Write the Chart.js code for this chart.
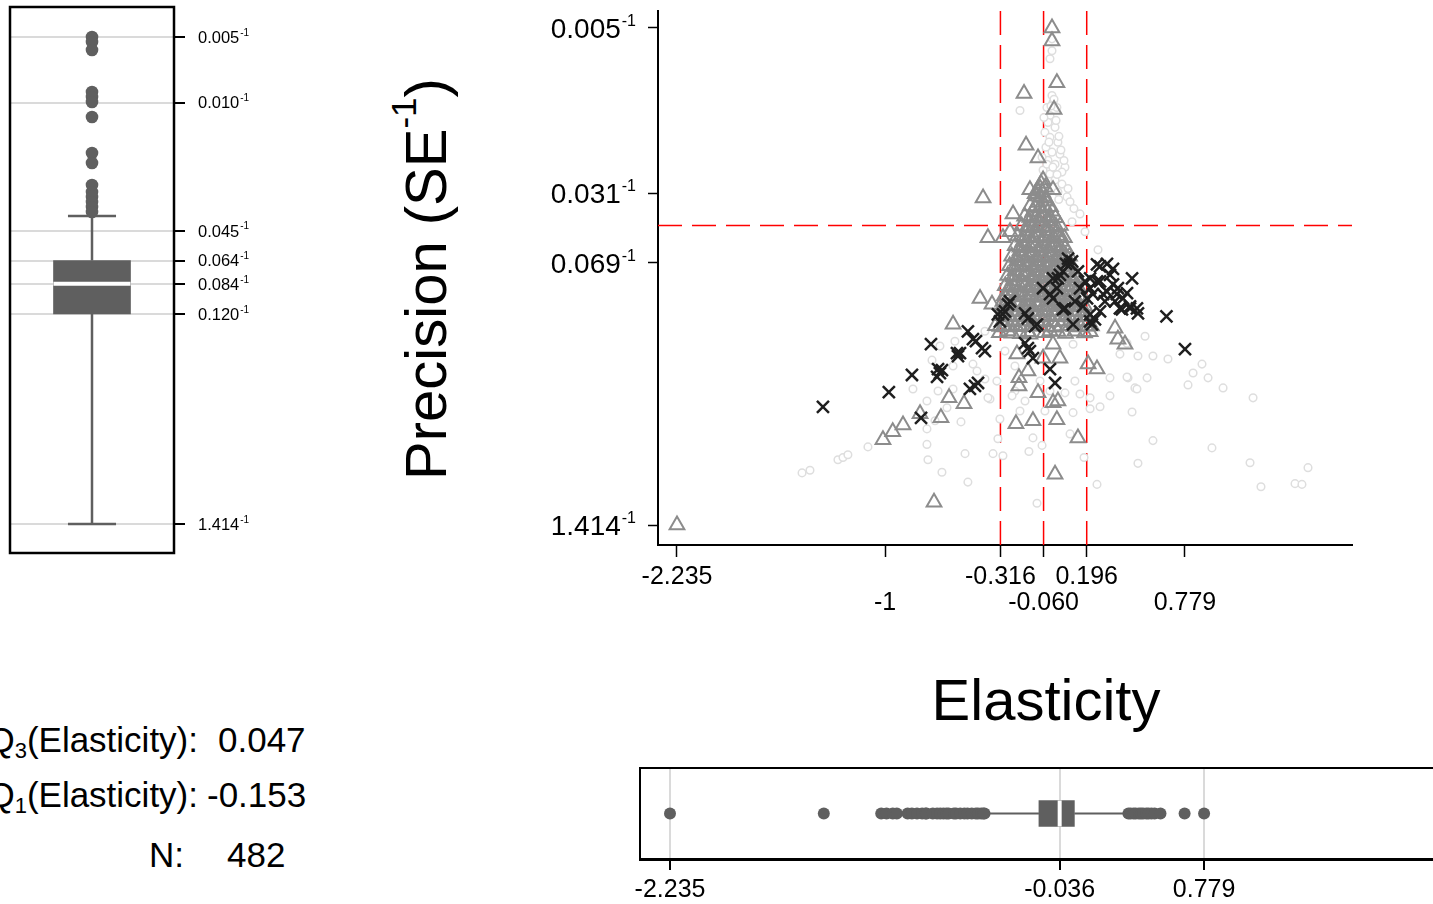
<!DOCTYPE html>
<html><head><meta charset="utf-8">
<script src="https://cdn.jsdelivr.net/npm/chart.js@4.4.1/dist/chart.umd.min.js"></script>
<style>
html,body{margin:0;padding:0;background:#fff;overflow:hidden;width:1433px;height:904px;}
body{position:relative;font-family:'Liberation Sans',Arial,Helvetica,sans-serif;color:#000;}
canvas{position:absolute;}
.t{position:absolute;white-space:nowrap;color:#000;}
.s{font-size:35px;line-height:35px;}
</style></head><body>
<canvas id="cL" width="270" height="560" style="left:0;top:0"></canvas>
<canvas id="cM" width="963" height="640" style="left:470px;top:0"></canvas>
<canvas id="cB" width="860" height="164" style="left:600px;top:740px"></canvas>

<div class="t" style="left:430px;top:279px;font-size:58px;line-height:58px;transform:translate(-50%,-50%) rotate(-90deg);">Precision (SE<span style="font-size:35px;position:relative;top:-30px;">-1</span>)</div>
<div class="t" style="left:1046px;top:671px;font-size:58px;line-height:58px;transform:translateX(-50%);">Elasticity</div>

<div class="t s" style="left:198px;top:722px;transform:translateX(-100%);">Q<span style="font-size:22px;position:relative;top:6px;">3</span>(Elasticity):</div>
<div class="t s" style="left:218px;top:722px;">0.047</div>
<div class="t s" style="left:198px;top:777px;transform:translateX(-100%);">Q<span style="font-size:22px;position:relative;top:6px;">1</span>(Elasticity):</div>
<div class="t s" style="left:207px;top:777px;">-0.153</div>
<div class="t s" style="left:184px;top:837px;transform:translateX(-100%);">N:</div>
<div class="t s" style="left:227px;top:837px;">482</div>

<script>
// ---------------- DATA ----------------
// Main scatter: [elasticity, precision (1/SE)]
const crossPts = [
[-1.369,2.76],[-0.978,3.27],[-0.841,3.98],[-0.728,5.67],[-0.787,2.43],[-0.692,3.89],[-0.663,4.21],[-0.574,5.12],[-0.556,5.12],
[-0.509,6.58],[-0.479,6.01],[-0.425,5.42],[-0.408,5.24],[-0.497,3.39],[-0.449,3.63],[-0.467,3.51],[-0.331,8.00],[-0.319,7.38],
[-0.271,8.97],[-0.259,9.28],[-0.289,8.28],[-0.170,8.09],[-0.153,7.64],[-0.099,7.13],[-0.170,5.74],[-0.153,5.42],[-0.123,4.83],
[-0.022,4.26],[0.008,3.63],[0.115,7.13],[0.216,7.38],[0.227,7.13],[0.245,7.55],[0.669,7.82],[0.779,5.36],[0.275,8.28],[0.393,8.57],
[0.453,8.57],[0.500,8.09],[0.085,15.2],[0.097,14.2],[0.037,12.6],[0.144,13.1],[-0.004,12.1],[0.019,10.8],[-0.063,10.8],[-0.004,9.61],
[0.067,8.57],[0.156,10.8],[0.186,11.7],[0.216,12.1],[0.257,14.2],[0.316,14.3],[0.352,13.5],[0.334,12.6],[0.465,12.1],[0.233,10.1],
[0.316,10.4],[0.375,10.1],[0.435,10.2],[0.453,8.77],[0.405,8.47],[0.198,9.61],[0.275,11.7],[0.352,11.3],[0.126,9.28],[0.055,8.47],
[-0.022,10.1],[0.216,10.8],[0.257,11.7],[0.293,10.1],[0.411,9.61],[0.494,8.57],[0.055,13.1],[0.025,12.1],[0.275,13.9],[0.216,8.00],
[-0.686,4.26],[-0.568,4.95],[-0.675,4.07],[-0.461,5.87],[-0.141,5.24],[-0.111,6.97],[0.109,14.7],[0.073,14.3],[-0.301,8.00],
[0.364,9.28],[0.304,9.28],[0.174,8.77],[0.381,10.8]
];
const trianglePts = [
[-0.010,216],[-0.010,186],[0.019,115],[-0.176,101.5],[0.002,84.5],[-0.164,56.0],[-0.093,48.3],[-0.063,37.5],[-0.141,33.5],[-0.004,33.5],
[-0.419,30.5],[-0.241,25.4],[-0.259,20.7],[-0.390,19.3],[-0.301,19.3],[-0.437,9.61],[-0.366,8.97],[-0.597,7.13],[-0.301,9.28],
[-0.247,6.44],[-0.218,5.06],[-0.153,4.17],[-0.206,3.85],[-0.206,3.51],[-0.093,3.24],[-0.004,2.89],[0.025,2.95],[0.019,2.38],
[-0.123,2.35],[-0.224,2.27],[0.144,1.93],[0.008,1.27],[-0.710,0.92],[-0.621,3.06],[-0.532,2.86],[-0.669,2.43],[-0.793,2.55],
[-0.894,2.24],[-0.955,2.07],[-1.013,1.89],[-0.063,4.83],[0.037,4.83],[0.204,4.51],[0.257,4.26],[0.364,6.81],[0.381,6.01],
[0.423,5.67],[-2.235,0.7072],[-0.004,5.67],[-0.141,6.36],
[-0.075,36.0],[-0.050,34.5],[-0.110,32.0],[-0.080,34.0],[-0.065,32.5],[-0.095,33.0],
[-0.105,31.2],[-0.049,30.4],[-0.078,30.7],
[-0.093,29.0],[-0.046,29.4],
[-0.139,27.8],[-0.083,27.2],[-0.019,27.6],[-0.111,27.4],[-0.052,27.6],
[-0.123,26.1],[-0.063,25.8],[-0.010,26.2],
[-0.172,24.7],[-0.108,24.2],[-0.055,24.8],[0.011,24.3],[-0.141,24.4],[-0.081,24.6],[-0.022,24.4],
[-0.141,23.3],[-0.081,23.0],[-0.022,23.4],
[-0.190,22.1],[-0.127,21.6],[-0.066,22.0],[-0.012,21.7],[0.039,22.2],[-0.158,21.8],[-0.099,22.0],[-0.040,21.8],[0.014,22.0],
[-0.158,20.8],[-0.099,20.5],[-0.040,20.9],[0.019,20.6],
[-0.214,19.7],[-0.150,19.3],[-0.096,19.6],[-0.031,19.2],[0.027,19.8],[0.063,19.3],
[-0.182,19.4],[-0.123,19.6],[-0.063,19.4],[-0.004,19.6],[0.043,19.4],
[-0.182,18.5],[-0.123,18.2],[-0.063,18.6],[-0.004,18.3],[0.043,18.5],
[-0.228,17.6],[-0.173,17.2],[-0.109,17.5],[-0.050,17.1],[0.006,17.6],[0.069,17.2],
[-0.200,17.3],[-0.141,17.5],[-0.081,17.3],[-0.022,17.5],[0.037,17.3],
[-0.200,16.6],[-0.141,16.3],[-0.081,16.6],[-0.022,16.4],[0.037,16.6],
[-0.249,15.6],[-0.186,15.3],[-0.131,15.7],[-0.066,15.4],[-0.013,15.6],[0.051,15.3],[0.094,15.6],
[-0.218,15.4],[-0.158,15.6],[-0.099,15.4],[-0.040,15.6],[0.019,15.4],[0.073,15.6],
[-0.218,14.8],[-0.158,14.6],[-0.099,14.8],[-0.040,14.6],[0.019,14.8],[0.073,14.6],
[-0.261,14.0],[-0.197,13.8],[-0.143,14.1],[-0.078,13.7],[-0.025,14.0],[0.040,13.8],[0.107,14.0],
[-0.230,13.8],[-0.170,14.0],[-0.111,13.8],[-0.052,14.0],[0.008,13.8],[0.073,14.0],
[-0.230,13.2],[-0.170,13.0],[-0.111,13.2],[-0.052,13.0],[0.008,13.2],[0.067,13.0],
[-0.273,12.5],[-0.209,12.3],[-0.156,12.6],[-0.091,12.2],[-0.036,12.5],[0.022,12.3],[0.088,12.5],[0.130,12.2],
[-0.241,12.3],[-0.182,12.5],[-0.123,12.3],[-0.063,12.5],[-0.004,12.3],[0.055,12.5],[0.109,12.3],
[-0.241,11.8],[-0.182,11.6],[-0.123,11.8],[-0.063,11.6],[-0.004,11.8],[0.055,11.6],[0.109,11.8],
[-0.287,11.1],[-0.233,10.9],[-0.168,11.2],[-0.114,10.8],[-0.049,11.1],[0.010,10.9],[0.064,11.1],[0.147,10.9],
[-0.259,10.95],[-0.200,11.05],[-0.141,10.95],[-0.081,11.05],[-0.022,10.95],[0.037,11.05],[0.103,10.95],
[-0.259,10.5],[-0.200,10.3],[-0.141,10.5],[-0.081,10.3],[-0.022,10.5],[0.037,10.3],[0.097,10.5],
[-0.292,9.90],[-0.227,9.75],[-0.173,9.95],[-0.108,9.70],[-0.055,9.88],[0.011,9.72],[0.070,9.90],[0.123,9.76],[0.170,9.85],
[-0.259,9.80],[-0.200,9.88],[-0.141,9.78],[-0.081,9.86],[-0.022,9.80],[0.037,9.88],[0.097,9.78],[0.150,9.86],
[-0.271,9.35],[-0.212,9.20],[-0.153,9.32],[-0.093,9.22],[-0.034,9.34],[0.025,9.20],[0.085,9.30],[0.144,9.22],
[-0.299,8.82],[-0.244,8.70],[-0.179,8.85],[-0.126,8.68],[-0.060,8.80],[-0.007,8.72],[0.058,8.86],[0.112,8.70],[0.183,8.80],
[-0.271,8.74],[-0.212,8.80],[-0.153,8.72],[-0.093,8.80],[-0.034,8.74],[0.025,8.80],[0.085,8.72],[0.150,8.78],
[-0.289,8.33],[-0.230,8.22],[-0.170,8.31],[-0.111,8.24],[-0.052,8.33],[0.008,8.21],[0.067,8.30],[0.126,8.25],[0.174,8.32],
[-0.316,7.88],[-0.262,7.76],[-0.197,7.90],[-0.144,7.74],[-0.078,7.86],[-0.025,7.78],[0.040,7.92],[0.094,7.75],[0.159,7.85],[0.201,7.78],
[-0.289,7.80],[-0.230,7.85],[-0.170,7.79],[-0.111,7.84],[-0.052,7.80],[0.008,7.85],[0.067,7.79],[0.126,7.84],[0.180,7.80],
[-0.301,7.42],[-0.241,7.33],[-0.182,7.40],[-0.123,7.34],[-0.063,7.41],[-0.004,7.35],[0.055,7.40],[0.115,7.33],[0.186,7.39],
[-0.345,7.02],[-0.292,6.92],[-0.227,7.01],[-0.173,6.93],[-0.084,7.00],[0.011,6.90],[0.082,7.02],[0.159,6.92],[0.224,7.00],
[-0.319,6.95],[-0.259,6.99],[-0.200,6.94],[-0.129,6.98],[-0.040,6.95],[0.043,6.99],[0.121,6.94],[0.192,6.98],
[-0.271,6.60],[-0.153,6.55],[-0.022,6.60],[0.025,6.56],[0.126,6.59],[0.216,6.55],
[-0.322,6.48],[-0.197,6.40],[-0.055,6.47],[0.070,6.41],[0.183,6.46]
];
const circlePts = [
[-0.010,190.5],[-0.010,166.1],[-0.022,151.5],[-0.200,83.5],[-0.010,99.2],[-0.004,91.6],[-0.022,78.9],[-0.034,72.8],[0.008,68.8],
[-0.052,64.9],[-0.022,61.3],[0.025,57.9],[-0.046,54.7],[-0.010,51.7],[0.037,50.5],[-0.034,47.1],[0.008,45.0],[0.067,43.5],
[-0.063,42.1],[-0.022,40.2],[0.049,35.8],[0.025,32.7],[0.079,30.9],[0.097,29.2],[0.156,25.4],[0.109,23.2],[0.263,16.8],[0.186,20.7],
[-0.040,86.5],[-0.058,77.1],[0.014,74.5],[0.049,41.1],[0.008,37.5],[-0.052,34.7],[0.019,86.5],[-0.069,48.8],
[0.002,95.0],[-0.016,88.0],[0.031,62.0],[-0.028,58.0],[0.043,53.0],[-0.040,45.0],[0.061,47.0],[0.020,40.0],[-0.005,43.5],[0.085,34.0],
[0.030,30.0],[0.120,27.0],
[0.542,6.22],[0.589,4.95],[0.678,4.78],[0.500,4.95],[0.393,5.06],[0.880,4.51],[0.827,4.07],[0.916,3.85],[0.797,3.55],[1.005,3.43],
[1.183,3.06],[0.554,3.85],[0.441,3.85],[0.334,3.85],[0.482,3.43],[0.465,2.60],[0.275,2.76],[0.589,1.87],[0.939,1.72],[1.165,1.45],
[1.509,1.37],[0.500,1.44],[0.180,1.54],[0.257,1.13],[-0.099,0.91],[1.432,1.14],[1.473,1.13],[1.230,1.10],[-0.147,1.65],[-0.360,1.61],
[-0.301,1.57],[-0.319,2.40],[-0.378,3.02],[0.115,2.58],[0.097,2.02],[-0.123,1.93],[-0.069,1.77],[0.216,3.06],[0.156,3.20],[0.067,3.24],
[0.126,3.71],[0.115,5.67],[0.435,5.74],[0.494,3.39],[0.435,3.89],[-0.230,3.31],[-0.170,2.95],[-0.052,2.63],[0.216,2.70],[0.334,3.13],
[-1.493,1.29],[-1.446,1.33],[-1.280,1.50],[-1.250,1.54],[-1.221,1.59],[-1.102,1.74],[-0.752,1.79],[-0.746,1.50],[-0.663,1.30],
[-0.509,1.16],[-0.526,1.61],[-0.550,2.32],[-0.752,2.14],[-0.722,4.72],[-0.597,4.41],[-0.455,4.17],[-0.390,3.06],[-0.331,1.91],
[-0.597,3.39],[-0.835,3.39],[-0.752,2.95],[-0.633,2.73],[-0.704,2.35],[-0.479,4.51],[-0.408,3.80],[-0.337,3.71],[-0.675,5.55],
[-0.586,5.87],[-0.408,6.58],[-0.230,4.41],[-0.289,5.24],[-0.081,3.71],[-0.022,3.31],[-0.200,2.63],[-0.247,3.13],[-0.686,3.31]
];
// Main axes
const xTickValues = [-2.235, -1, -0.316, -0.060, 0.196, 0.779];
const xTickLabels = ['-2.235', '-1', '-0.316', '-0.060', '0.196', '0.779'];
const xTickRow    = [0, 1, 0, 1, 0, 1];
const seTickValues = [0.00463, 0.031, 0.069, 1.414];
const seTickLabels = ['0.005', '0.031', '0.069', '1.414'];
const refLinesX = [-0.316, -0.060, 0.196];
const refLineSE = [0.045];
// Left box plot of SE (whisker top, Q1, median, Q3, whisker bottom)
const seBoxStats = [0.0379, 0.064, 0.084, 0.120, 1.414];
const seBoxOutliers = [0.00463, 0.00491, 0.00539, 0.00883, 0.00937, 0.00994, 0.01185, 0.01809, 0.02035,
  0.02634, 0.0286, 0.0303, 0.0322, 0.0341, 0.0362];
const seBoxTickValues = [0.00463, 0.010, 0.045, 0.064, 0.084, 0.120, 1.414];
const seBoxTickLabels = ['0.005', '0.010', '0.045', '0.064', '0.084', '0.120', '1.414'];
// Bottom box plot of elasticity (whisker lo, Q1, median, Q3, whisker hi)
const elastBoxStats = [-0.445, -0.153, -0.036, 0.047, 0.333];
const elastOutliers = [-2.235, -1.367, -1.043, -1.013, -0.978, -0.955, -0.894, -0.870, -0.841, -0.812, -0.793, -0.787,
  -0.752, -0.728, -0.710, -0.692, -0.675, -0.663, -0.633, -0.621, -0.597, -0.574, -0.556, -0.532, -0.509, -0.497,
  -0.479, -0.467, -0.460, 0.352, 0.364, 0.381, 0.393, 0.411, 0.423, 0.435, 0.453, 0.465, 0.482, 0.500, 0.533, 0.669, 0.779];
const elastTickValues = [-2.235, -0.036, 0.779];
const elastTickLabels = ['-2.235', '-0.036', '0.779'];

// ---------------- SETUP ----------------
const FONT = "'Liberation Sans', Arial, Helvetica, sans-serif";
Chart.defaults.font.family = FONT;
Chart.defaults.color = '#000';
Chart.defaults.animation = false;
Chart.defaults.events = [];
Chart.defaults.plugins.legend.display = false;
Chart.defaults.plugins.tooltip.enabled = false;

const BOXGREY = '#5f5f5f';
const toPts = arr => arr.map(([x, p]) => ({x: x, y: p}));

const framePlugin = {
  id: 'frame',
  afterDatasetsDraw(chart, args, o) {
    if (!o || !o.show) return;
    const a = chart.chartArea, ctx = chart.ctx;
    ctx.save();
    ctx.strokeStyle = '#000'; ctx.lineWidth = o.width || 2;
    ctx.strokeRect(a.left, a.top, a.right - a.left, a.bottom - a.top);
    ctx.restore();
  }
};
const supTicks = {
  id: 'supTicks',
  afterDraw(chart, args, o) {
    if (!o || !o.values) return;
    const sc = chart.scales.y, ctx = chart.ctx, a = chart.chartArea;
    ctx.save();
    ctx.fillStyle = '#000';
    ctx.textBaseline = 'alphabetic';
    ctx.textAlign = 'left';
    o.values.forEach((se, i) => {
      const y = sc.getPixelForValue(1 / se);
      const base = o.labels[i];
      ctx.font = o.size + 'px ' + FONT;
      const bw = ctx.measureText(base).width;
      ctx.font = o.supSize + 'px ' + FONT;
      const sw = ctx.measureText('-1').width;
      const x0 = o.align === 'left' ? a.right + o.offset : a.left - o.offset - bw - sw - 1;
      ctx.font = o.size + 'px ' + FONT;
      ctx.fillText(base, x0, y + o.size * 0.36);
      ctx.font = o.supSize + 'px ' + FONT;
      ctx.fillText('-1', x0 + bw + 1, y - o.size * 0.07);
    });
    ctx.restore();
  }
};

// ---------------- MAIN SCATTER ----------------
const yMinMain = 0.5626, yMaxMain = 262.4;
const xMinMain = -2.3477, xMaxMain = 1.770;
const refDatasets = refLinesX.map(v => ({
  type: 'line', data: [{x: v, y: yMinMain}, {x: v, y: yMaxMain}],
  borderColor: '#ff0000', borderWidth: 1.5, borderDash: [24, 10], pointRadius: 0, showLine: true, order: 3
}));
refLineSE.forEach(se => refDatasets.push({
  type: 'line', data: [{x: xMinMain, y: 1 / se}, {x: xMaxMain, y: 1 / se}],
  borderColor: '#ff0000', borderWidth: 1.5, borderDash: [24, 10], pointRadius: 0, showLine: true, order: 3
}));

new Chart(document.getElementById('cM'), {
  type: 'scatter',
  data: { datasets: [
    { label: 'x', data: toPts(crossPts), pointStyle: 'crossRot', pointRadius: 8.5, borderColor: '#1f1f1f',
      backgroundColor: '#1f1f1f', borderWidth: 2.5, order: 0 },
    { label: 'tri', data: toPts(trianglePts), pointStyle: 'triangle', pointRadius: 8.5, borderColor: '#8c8c8c',
      backgroundColor: 'rgba(0,0,0,0)', borderWidth: 2, order: 1 },
    { label: 'circ', data: toPts(circlePts), pointStyle: 'circle', pointRadius: 3.8, borderColor: '#dedede',
      backgroundColor: '#ffffff', borderWidth: 1.5, order: 2 },
    ...refDatasets
  ]},
  options: {
    responsive: false, devicePixelRatio: 1,
    layout: { padding: { left: 0, right: 81, top: 8, bottom: 0 } },
    scales: {
      x: {
        type: 'linear', min: xMinMain, max: xMaxMain,
        afterBuildTicks: s => { s.ticks = xTickValues.map(v => ({value: v})); },
        afterFit: s => { s.height = 95; },
        ticks: { autoSkip: false, maxRotation: 0, minRotation: 0, padding: 7, color: '#000',
          font: { size: 25, lineHeight: 1.05 },
          callback: (v, i) => xTickRow[i] ? ['', xTickLabels[i]] : xTickLabels[i] },
        grid: { drawOnChartArea: false, tickLength: 12, tickColor: '#000', tickWidth: 1.5 },
        border: { color: '#000', width: 2 }
      },
      y: {
        type: 'logarithmic', min: yMinMain, max: yMaxMain,
        afterBuildTicks: s => { s.ticks = seTickValues.map(v => ({value: 1 / v})); },
        afterFit: s => { s.width = 188; },
        ticks: { display: false },
        grid: { drawOnChartArea: false, tickLength: 10, tickColor: '#000', tickWidth: 1.5 },
        border: { color: '#000', width: 2 }
      }
    },
    plugins: { supTicks: { values: seTickValues, labels: seTickLabels, size: 28, supSize: 16, align: 'right', offset: 22 } }
  },
  plugins: [supTicks]
});

// ---------------- LEFT BOX PLOT (SE) ----------------
const [seWTop, seQ1, seMed, seQ3, seWBot] = seBoxStats;
const yMinL = 0.5029, yMaxL = 307.3;
new Chart(document.getElementById('cL'), {
  type: 'scatter',
  data: { datasets: [
    { type: 'line', data: [{x: -0.47, y: 1 / seMed}, {x: 0.47, y: 1 / seMed}], borderColor: '#ffffff', borderWidth: 4,
      pointRadius: 0, showLine: true, order: 0 },
    { type: 'bar', data: [{x: 0, y: [1 / seQ3, 1 / seQ1]}], backgroundColor: BOXGREY, barThickness: 77, order: 1 },
    { type: 'line', data: [{x: 0, y: 1 / seQ1}, {x: 0, y: 1 / seWTop}], borderColor: BOXGREY, borderWidth: 2.5, pointRadius: 0, showLine: true, order: 2 },
    { type: 'line', data: [{x: 0, y: 1 / seQ3}, {x: 0, y: 1 / seWBot}], borderColor: BOXGREY, borderWidth: 2.5, pointRadius: 0, showLine: true, order: 2 },
    { type: 'line', data: [{x: -0.293, y: 1 / seWTop}, {x: 0.293, y: 1 / seWTop}], borderColor: BOXGREY, borderWidth: 2.5, pointRadius: 0, showLine: true, order: 2 },
    { type: 'line', data: [{x: -0.293, y: 1 / seWBot}, {x: 0.293, y: 1 / seWBot}], borderColor: BOXGREY, borderWidth: 2.5, pointRadius: 0, showLine: true, order: 2 },
    { type: 'scatter', data: seBoxOutliers.map(s => ({x: 0, y: 1 / s})), pointRadius: 6.3, pointStyle: 'circle',
      backgroundColor: BOXGREY, borderColor: BOXGREY, borderWidth: 0, order: 3 }
  ]},
  options: {
    responsive: false, devicePixelRatio: 1,
    layout: { padding: { left: 10, right: 0, top: 7, bottom: 7 } },
    scales: {
      x: { type: 'linear', min: -1, max: 1, display: false, offset: false, grid: { offset: false } },
      y: {
        type: 'logarithmic', position: 'right', min: yMinL, max: yMaxL,
        afterBuildTicks: s => { s.ticks = seBoxTickValues.map(v => ({value: 1 / v})); },
        afterFit: s => { s.width = 96; },
        ticks: { display: false },
        grid: { drawOnChartArea: true, color: '#dadada', lineWidth: 2, tickLength: 11, tickColor: '#000', tickWidth: 2 },
        border: { display: false }
      }
    },
    plugins: {
      frame: { show: true, width: 2.5 },
      supTicks: { values: seBoxTickValues, labels: seBoxTickLabels, size: 16.5, supSize: 10, align: 'left', offset: 24 }
    }
  },
  plugins: [framePlugin, supTicks]
});

// ---------------- BOTTOM BOX PLOT (Elasticity) ----------------
const [eLo, eQ1, eMed, eQ3, eHi] = elastBoxStats;
new Chart(document.getElementById('cB'), {
  type: 'scatter',
  data: { datasets: [
    { type: 'line', data: [{x: eMed, y: 0.357}, {x: eMed, y: 0.643}], borderColor: '#ffffff', borderWidth: 4, pointRadius: 0, showLine: true, order: 0 },
    { type: 'bar', indexAxis: 'y', data: [{y: 0.5, x: [eQ1, eQ3]}], backgroundColor: BOXGREY, barThickness: 26, order: 1 },
    { type: 'line', data: [{x: eLo, y: 0.5}, {x: eQ1, y: 0.5}], borderColor: BOXGREY, borderWidth: 1.8, pointRadius: 0, showLine: true, order: 2 },
    { type: 'line', data: [{x: eQ3, y: 0.5}, {x: eHi, y: 0.5}], borderColor: BOXGREY, borderWidth: 1.8, pointRadius: 0, showLine: true, order: 2 },
    { type: 'scatter', data: elastOutliers.map(v => ({x: v, y: 0.5})), pointRadius: 6, pointStyle: 'circle',
      backgroundColor: BOXGREY, borderColor: BOXGREY, borderWidth: 0, order: 3 }
  ]},
  options: {
    responsive: false, devicePixelRatio: 1,
    layout: { padding: { left: 40, right: 10, top: 28, bottom: 0 } },
    scales: {
      x: {
        type: 'linear', min: -2.4043, max: 2.1668, offset: false,
        afterBuildTicks: s => { s.ticks = elastTickValues.map(v => ({value: v})); },
        afterFit: s => { s.height = 45; },
        ticks: { autoSkip: false, maxRotation: 0, minRotation: 0, padding: 7, color: '#000', font: { size: 25, lineHeight: 1.05 },
          callback: (v, i) => elastTickLabels[i] },
        grid: { drawOnChartArea: true, color: '#dadada', lineWidth: 2, tickLength: 11, tickColor: '#000', tickWidth: 2, offset: false },
        border: { color: '#000', width: 3 }
      },
      y: { type: 'linear', min: 0, max: 1, display: false, offset: false, grid: { offset: false } }
    },
    plugins: { frame: { show: true, width: 2 } }
  },
  plugins: [framePlugin]
});
</script>
</body></html>
